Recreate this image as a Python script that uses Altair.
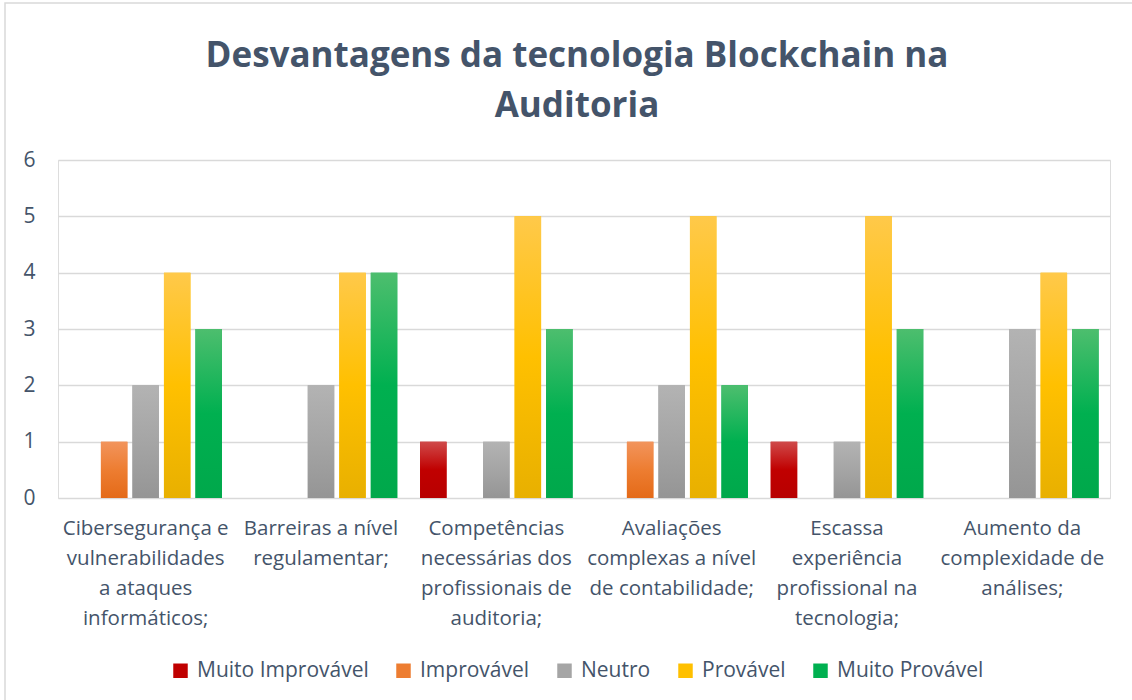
import altair as alt
import pandas as pd

categories = [
    "Cibersegurança e|vulnerabilidades|a ataques|informáticos;",
    "Barreiras a nível|regulamentar;",
    "Competências|necessárias dos|profissionais de|auditoria;",
    "Avaliações|complexas a nível|de contabilidade;",
    "Escassa|experiência|profissional na|tecnologia;",
    "Aumento da|complexidade de|análises;",
]
series = ["Muito Improvável", "Improvável", "Neutro", "Provável", "Muito Provável"]
muito_improvavel = [0, 0, 1, 0, 1, 0]
improvavel = [1, 0, 0, 1, 0, 0]
neutro = [2, 2, 1, 2, 1, 3]
provavel = [4, 4, 5, 5, 5, 4]
muito_provavel = [3, 4, 3, 2, 3, 3]
values = [muito_improvavel, improvavel, neutro, provavel, muito_provavel]

colors = ["#C00000", "#ED7D31", "#A5A5A5", "#FFC000", "#00B050"]
tops = ["#CF4A4A", "#F2945C", "#B3B3B3", "#FFC94A", "#4DBE6E"]
bottoms = ["#B80000", "#E46A18", "#959595", "#E8B000", "#00A84B"]

rows = []
for s, vals in zip(series, values):
    for c, v in zip(categories, vals):
        rows.append({"cat": c, "serie": s, "valor": v})
df = pd.DataFrame(rows)

TXT = "#44546A"
FONT = "Open Sans"

x_enc = alt.X(
    "cat:N",
    sort=categories,
    scale=alt.Scale(domain=categories, paddingInner=0.13, paddingOuter=0.065),
    axis=alt.Axis(
        title=None,
        labelExpr="split(datum.value, '|')",
        labelAngle=0,
        labelFontSize=20.5,
        labelFont=FONT,
        labelColor=TXT,
        labelLineHeight=30,
        labelPadding=20,
        labelLimit=400,
        ticks=False,
        domain=False,
        grid=False,
    ),
)
xo_enc = alt.XOffset(
    "serie:N", sort=series, scale=alt.Scale(domain=series, paddingInner=0.16, paddingOuter=0)
)
y_enc = alt.Y(
    "valor:Q",
    scale=alt.Scale(domain=[0, 6], nice=False),
    axis=alt.Axis(
        title=None,
        values=[0, 1, 2, 3, 4, 5, 6],
        format="d",
        labelFontSize=21,
        labelFont=FONT,
        labelColor=TXT,
        labelPadding=23,
        ticks=False,
        domain=False,
        gridColor="#D9D9D9",
        gridWidth=1.5,
    ),
)

base = alt.Chart(df).encode(x=x_enc, xOffset=xo_enc, y=y_enc)

legend_layer = base.mark_bar().encode(
    color=alt.Color(
        "serie:N",
        sort=series,
        scale=alt.Scale(domain=series, range=colors),
        legend=alt.Legend(
            title=None,
            orient="none",
            direction="horizontal",
            legendX=112,
            legendY=500,
            symbolType="square",
            symbolSize=210,
            symbolStrokeWidth=0,
            labelFontSize=21,
            labelFont=FONT,
            labelColor=TXT,
            labelLimit=300,
            columnPadding=24,
            labelOffset=6,
        ),
    )
)

layers = [legend_layer]
for s, top, mid, bot in zip(series, tops, colors, bottoms):
    grad = {
        "gradient": "linear",
        "x1": 0, "y1": 0, "x2": 0, "y2": 1,
        "stops": [
            {"offset": 0, "color": top},
            {"offset": 0.5, "color": mid},
            {"offset": 1, "color": bot},
        ],
    }
    layers.append(base.transform_filter(alt.datum.serie == s).mark_bar(fill=grad))

border = alt.Chart(pd.DataFrame({"a": [0]})).mark_rect(
    filled=False, stroke="#D9D9D9", strokeWidth=1.5
).encode(x=alt.value(-53), x2=alt.value(1200), y=alt.value(-157), y2=alt.value(800))

chart = alt.layer(border, *layers).properties(
    width=1052,
    height=338,
    title=alt.TitleParams(
        ["Desvantagens da tecnologia Blockchain na", "Auditoria"],
        fontSize=35,
        font=FONT,
        fontWeight="bold",
        color=TXT,
        anchor="middle",
        frame="group",
        dx=-7,
        offset=-122,
        lineHeight=50,
    ),
    autosize=alt.AutoSizeParams(type="none"),
    padding={"left": 58, "top": 160, "right": 22, "bottom": 202},
).configure_view(stroke=None).configure(background="white")

chart.save("out.html", embed_options={"renderer": "svg", "actions": False})
